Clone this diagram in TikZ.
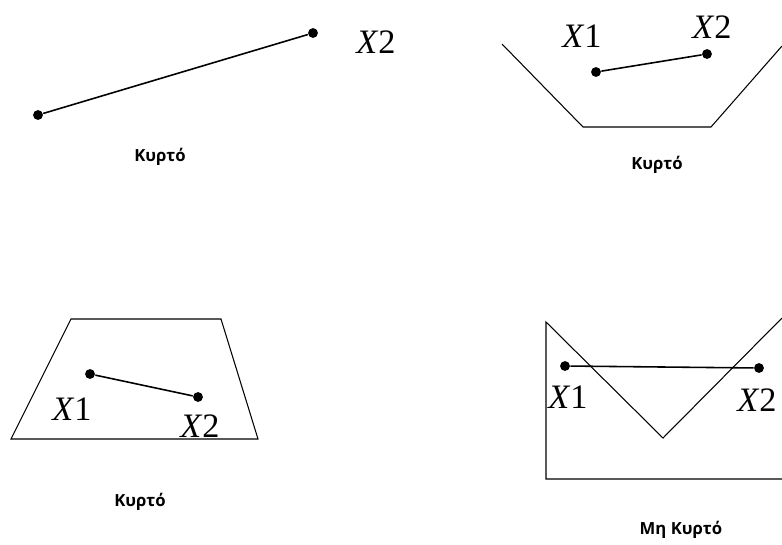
\documentclass[tikz,border=0pt]{standalone}
\usepackage{fontspec}
\setsansfont{Open Sans}
\newfontfamily\ptfont{Liberation Serif}
\usetikzlibrary{positioning}
\newcommand{\ptname}[1]{\textit{X}#1}

\begin{document}
\begin{tikzpicture}[x=0.02cm,y=-0.02cm,line width=0.6pt,
  dot/.style={circle,fill,inner sep=0pt,minimum size=5.6pt},
  seg/.style={line width=0.9pt},
  ptlabel/.style={font=\ptfont\fontsize{19.5}{20}\selectfont},
  caption/.style={font=\sffamily\bfseries\fontsize{9.5}{11}\selectfont}]
\useasboundingbox (0,0) rectangle (782,545);

% first: a segment alone
\node[dot] (a1) at (38,115) {};
\node[dot] (a2) at (313,33) {};
\draw[seg] (a1) -- (a2);
\node[ptlabel] (a2lbl) at (376,42) {\ptname{2}};
\node[caption] (acap) at (160,157) {Κυρτό};

% second: open polygon
\draw (502,44) -- (583,127) -- (711,127) -- (782,46);
\node[dot] (b1) at (596,72) {};
\node[dot] (b2) at (707,54) {};
\draw[seg] (b1) -- (b2);
\node[ptlabel] (b1lbl) at (582,36) {\ptname{1}};
\node[ptlabel] (b2lbl) at (712,27) {\ptname{2}};
\node[caption] (bcap) at (657,165) {Κυρτό};

% third: trapezoid
\draw (71,319) -- (221,319) -- (258,439) -- (11,439) -- cycle;
\node[dot] (c1) at (90,374) {};
\node[dot] (c2) at (198,397) {};
\draw[seg] (c1) -- (c2);
\node[ptlabel] (c1lbl) at (72,409) {\ptname{1}};
\node[ptlabel] (c2lbl) at (200,426) {\ptname{2}};
\node[caption] (ccap) at (140,502) {Κυρτό};

% fourth: not convex
\draw (782,318) -- (663,438) -- (546,322) -- (546,479) -- (782,479);
\node[dot] (d1) at (565,366) {};
\node[dot] (d2) at (759,368) {};
\draw[seg] (d1) -- (d2);
\node[ptlabel] (d1lbl) at (568,397) {\ptname{1}};
\node[ptlabel] (d2lbl) at (757,400) {\ptname{2}};
\node[caption] (dcap) at (681,530) {Μη Κυρτό};
\end{tikzpicture}
\end{document}
